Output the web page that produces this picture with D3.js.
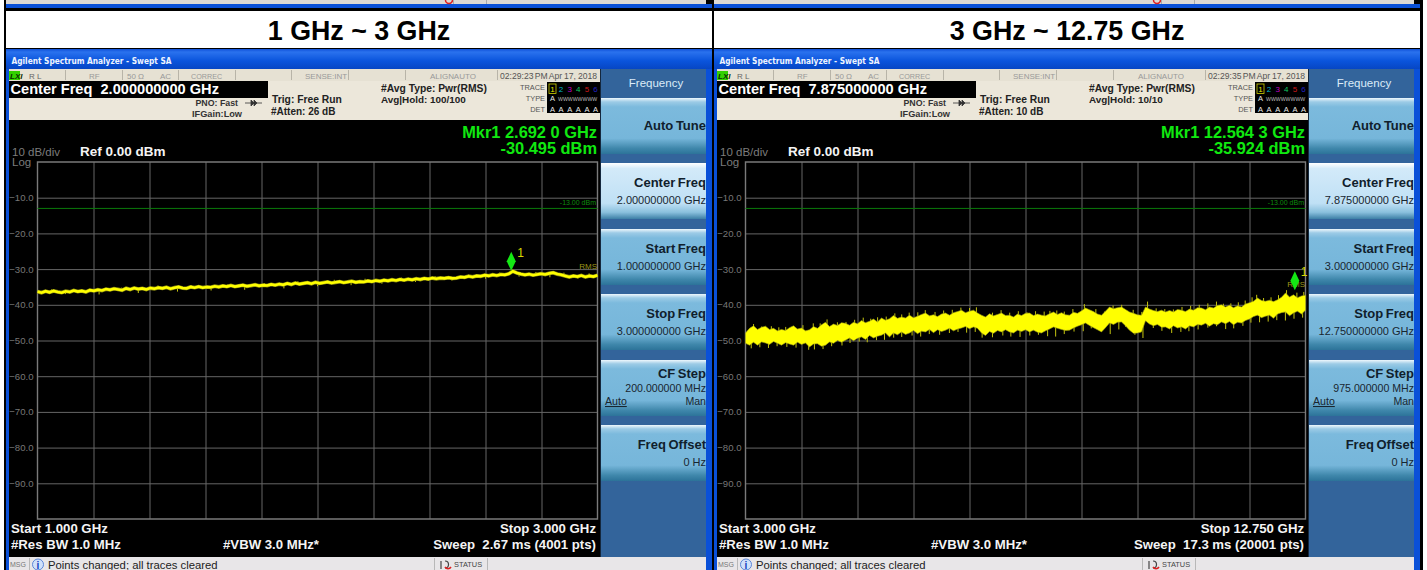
<!DOCTYPE html>
<html lang="en">
<head>
  <meta charset="UTF-8">
  <title>1 GHz ~ 12.75 GHz</title>
  <style>
    html, body { margin: 0; padding: 0; background: #fff; overflow: hidden; }
    svg { display: block; font-family: 'Liberation Sans', Arial, sans-serif; }
  </style>
</head>
<body>
  <svg width="1427" height="570"></svg>

  <script src="https://d3js.org/d3.v7.min.js"></script>
  <script>
    // panel values
    var titles = ['1 GHz ~ 3 GHz', '3 GHz ~ 12.75 GHz'];
    var startGHz = [1, 3];
    var stopGHz = [3, 12.75];
    var centerFreq = ['2.000000000 GHz', '7.875000000 GHz'];
    var startFreq = ['1.000000000 GHz', '3.000000000 GHz'];
    var stopFreq = ['3.000000000 GHz', '12.750000000 GHz'];
    var cfStep = ['200.000000 MHz', '975.000000 MHz'];
    var clock = ['02:29:23 PM', '02:29:35 PM'];
    var atten = ['#Atten: 26 dB', '#Atten: 10 dB'];
    var avgHold = ['Avg|Hold: 100/100', 'Avg|Hold: 10/10'];
    var mkrFreq = [2.6920, 12.5643];
    var mkrLabel = ['Mkr1 2.692 0 GHz', 'Mkr1 12.564 3 GHz'];
    var mkrValue = [-30.495, -35.924];
    var mkrText = ['-30.495 dBm', '-35.924 dBm'];
    var startLabel = ['Start 1.000 GHz', 'Start 3.000 GHz'];
    var stopLabel = ['Stop 3.000 GHz', 'Stop 12.750 GHz'];
    var sweepLabel = ['Sweep\u00a0\u00a02.67 ms (4001 pts)', 'Sweep\u00a0\u00a017.3 ms (20001 pts)'];
    var rmsValue = [-30, -35];
    var dbTicks = [-10, -20, -30, -40, -50, -60, -70, -80, -90];
    var limitDb = -13;
    var softkeys = ['Center Freq', 'Start Freq', 'Stop Freq'];

    // left trace, dBm across the 1 - 3 GHz sweep
    var traceA = [
      -36.3,-36.6,-36.2,-36.5,-36.1,-36.4,-36.6,-36.2,-36.4,-36.0,-36.3,-36.1,-36.4,-35.9,
      -36.1,-35.8,-36.0,-35.6,-35.8,-35.5,-35.7,-35.9,-35.4,-35.7,-35.3,-35.6,-35.4,-35.7,-35.3,
      -35.5,-35.2,-35.4,-35.1,-35.5,-35.2,-35.0,-35.3,-35.4,-35.0,-35.2,-34.9,-35.2,-35.0,
      -35.1,-34.8,-35.0,-34.7,-34.9,-34.6,-34.9,-34.7,-34.5,-34.8,-34.6,-34.4,-34.7,-34.5,
      -34.6,-34.3,-34.5,-34.2,-34.4,-34.0,-34.3,-33.9,-34.2,-34.0,-33.8,-34.1,-33.7,-34.0,
      -33.8,-33.6,-33.9,-33.7,-33.5,-33.8,-33.6,-33.4,-33.7,-33.5,
      -33.6,-33.3,-33.5,-33.2,-33.4,-33.1,-33.3,-33.0,-33.2,-32.9,-33.1,-32.8,-33.0,-32.7,-32.9,-32.6,-32.8,
      -32.5,-32.7,-32.5,-32.6,-32.4,-32.6,-32.5,-32.2,
      -32.3,-32.0,-32.2,-31.9,-32.0,-31.7,-31.9,-31.6,-31.8,-31.5,-31.6,-31.3,-30.6,
      -31.1,-31.4,-31.6,-31.4,-31.7,-31.5,-31.3,-31.5,-31.2,-31.0,-31.4,-31.6,-31.9,-32.2,
      -31.9,-32.1,-31.8,-32.2,-31.9,-32.1,-31.7
    ];
    // [GHz, tip dBm] of the noise spikes on the left trace
    var spikesA = [
      [1.05,-35.7],[1.1,-37.0],[1.16,-35.8],[1.22,-37.1],[1.3,-35.2],[1.36,-36.7],[1.43,-34.6],[1.5,-36.3],
      [1.55,-34.5],[1.62,-36.0],[1.68,-34.2],[1.74,-35.8],[1.81,-33.9],[1.88,-35.4],[1.93,-33.4],[2.0,-34.8],
      [2.06,-33.0],[2.12,-34.5],[2.17,-32.7],[2.23,-34.1],[2.3,-32.4],[2.35,-33.6],[2.42,-32.0],[2.48,-33.2],
      [2.54,-31.5],[2.6,-32.7],[2.65,-31.0],[2.72,-32.1],[2.78,-30.8],[2.83,-32.3],[2.88,-31.0],[2.93,-32.7],[2.97,-31.2]
    ];

    // right trace, upper and lower edge of the noise band in dBm, 3 - 12.75 GHz sweep
    var traceBTop = [
      -47.9,-46.6,-45.9,-46.9,-46.3,-46.0,-46.9,-46.6,-47.3,-46.9,
      -47.2,-46.4,-45.9,-46.8,-46.5,-47.3,-47.0,-46.1,-46.6,-45.6,
      -44.9,-46.1,-45.4,-45.8,-45.0,-45.2,-45.7,-44.9,-45.3,-44.4,
      -45.0,-44.6,-44.0,-44.8,-43.7,-44.3,-43.9,-43.0,-43.8,-43.4,
      -43.7,-42.9,-43.6,-43.2,-42.7,-42.3,-43.1,-42.8,-43.3,-42.6,
      -42.3,-42.9,-42.2,-41.9,-41.5,-42.2,-41.8,-41.5,-42.3,-42.9,
      -43.4,-42.5,-43.1,-42.7,-42.3,-43.0,-42.9,-43.4,-42.6,-43.0,
      -42.4,-42.3,-43.0,-42.6,-42.9,-43.1,-42.5,-42.0,-42.7,-42.2,
      -42.8,-42.9,-42.1,-42.4,-41.7,-40.9,-41.4,-41.9,-42.6,-42.9,
      -41.8,-40.6,-41.1,-40.8,-40.6,-41.3,-42.0,-42.4,-42.8,-42.9,
      -40.6,-41.2,-41.6,-41.9,-41.5,-42.0,-41.6,-42.0,-41.3,-41.5,
      -41.9,-41.2,-41.5,-40.8,-40.9,-41.4,-40.6,-40.9,-40.2,-40.0,
      -40.6,-40.1,-40.8,-40.3,-40.6,-39.8,-39.4,-39.0,-38.1,-38.8,
      -39.0,-38.7,-39.1,-38.6,-37.9,-36.7,-37.8,-37.2,-38.0,-37.5,
      -37.3
    ];
    var traceBBottom = [
      -50.8,-51.3,-50.5,-51.3,-50.4,-50.7,-51.1,-50.3,-50.8,-51.3,
      -50.6,-51.0,-51.3,-50.5,-51.1,-50.7,-51.8,-51.0,-50.9,-51.6,
      -51.3,-50.4,-50.8,-50.0,-50.5,-49.9,-49.3,-50.1,-49.4,-49.0,
      -49.7,-48.6,-49.3,-48.8,-48.5,-47.9,-49.0,-47.9,-48.4,-47.6,
      -48.3,-47.9,-47.2,-48.1,-47.4,-47.6,-46.9,-47.8,-47.0,-47.5,
      -47.1,-46.6,-47.3,-46.8,-46.5,-46.1,-46.7,-46.2,-46.6,-47.9,
      -48.6,-47.5,-48.0,-47.2,-47.6,-47.0,-47.6,-47.9,-47.1,-47.5,
      -47.0,-47.6,-47.1,-47.7,-47.9,-47.3,-46.8,-46.2,-46.6,-46.9,
      -47.2,-47.1,-46.5,-46.0,-45.6,-45.1,-45.8,-46.4,-47.0,-47.6,
      -46.4,-45.1,-45.5,-44.9,-44.8,-45.9,-47.1,-48.0,-47.9,-47.6,
      -44.5,-45.4,-45.9,-45.5,-46.3,-46.2,-46.8,-45.9,-46.5,-46.2,
      -46.8,-45.9,-46.2,-45.5,-45.7,-45.2,-46.0,-45.3,-45.6,-44.8,
      -45.3,-44.7,-45.6,-44.9,-45.1,-44.4,-44.0,-43.3,-42.9,-43.6,
      -43.2,-42.9,-43.8,-42.6,-42.2,-42.0,-43.1,-42.3,-41.8,-42.6,
      -41.5
    ];
    // [GHz, tip dBm] of the spikes sticking out of the right trace
    var spikesB = [
      [3.14,-45.4],[3.28,-46.1],[3.45,-46.0],[3.58,-46.3],[3.7,-46.2],[3.85,-46.2],[4.0,-45.7],[4.18,-45.2],
      [4.3,-45.2],[4.42,-44.1],[4.6,-44.9],[4.75,-44.8],[4.9,-44.2],[5.05,-43.6],[5.18,-43.9],[5.3,-43.5],
      [5.45,-43.3],[5.6,-42.4],[5.72,-42.7],[5.85,-42.2],[6.0,-42.1],[6.13,-41.5],[6.3,-42.0],[6.45,-41.6],
      [6.6,-41.4],[6.75,-40.8],[6.9,-40.9],[7.02,-40.7],[7.3,-42.2],[7.45,-41.5],[7.6,-42.2],[7.75,-41.8],
      [7.9,-42.1],[8.05,-41.8],[8.2,-41.9],[8.3,-41.7],[8.42,-41.6],[8.55,-41.9],[8.7,-41.2],[8.9,-39.8],
      [9.1,-41.2],[9.25,-41.9],[9.4,-40.2],[9.55,-40.0],[9.75,-41.4],[9.9,-42.0],[10.0,-39.1],[10.15,-41.0],
      [10.3,-41.2],[10.45,-41.3],[10.6,-40.6],[10.75,-40.3],[10.9,-40.0],[11.05,-39.6],[11.2,-39.1],[11.32,-39.7],
      [11.45,-39.6],[11.58,-39.3],[11.7,-38.8],[11.82,-37.9],[11.9,-37.2],[12.02,-38.1],[12.15,-37.9],[12.28,-37.3],
      [12.42,-35.9],[12.6,-36.6],[12.72,-36.4],
      [3.1,-52.2],[3.25,-51.9],[3.4,-52.1],[3.55,-51.6],[3.72,-51.8],[3.88,-52.0],[4.1,-52.6],[4.2,-52.5],
      [4.35,-52.4],[4.5,-51.6],[4.68,-51.4],[4.82,-50.7],[4.98,-50.3],[5.12,-50.5],[5.28,-49.9],[5.42,-49.8],
      [5.58,-49.2],[5.72,-49.0],[5.9,-48.6],[6.05,-48.9],[6.2,-48.2],[6.38,-48.4],[6.55,-47.9],[6.7,-47.6],
      [6.85,-47.8],[7.0,-47.6],[7.12,-49.2],[7.3,-49.1],[7.48,-48.6],[7.62,-48.9],[7.78,-49.0],[7.95,-48.6],
      [8.1,-48.4],[8.26,-48.8],[8.4,-48.9],[8.55,-48.2],[8.72,-47.5],[8.88,-47.4],[9.02,-46.6],[9.18,-47.2],
      [9.35,-48.2],[9.5,-46.9],[9.62,-46.2],[9.78,-48.4],[9.92,-49.3],[10.1,-46.5],[10.25,-47.3],[10.42,-47.9],
      [10.58,-47.6],[10.72,-47.4],[10.88,-46.9],[11.05,-46.4],[11.2,-46.0],[11.36,-46.8],[11.5,-46.6],[11.66,-45.9],
      [11.8,-45.0],[11.95,-44.9],[12.1,-44.7],[12.25,-44.3],[12.4,-44.4],[12.55,-43.9],[12.7,-43.6]
    ];

    var svg = d3.select('svg');
    var defs = svg.append('defs');

    function gradient(id, stops) {
      var g = defs.append('linearGradient').attr('id', id)
        .attr('x1', 0).attr('y1', 0).attr('x2', 0).attr('y2', 1);
      stops.forEach(function(s) {
        g.append('stop').attr('offset', s[0]).attr('stop-color', s[1]);
      });
    }
    gradient('bar', [[0, '#0f50d8'], [0.15, '#2a72ee'], [0.6, '#0a54dc'], [1, '#0646c4']]);
    gradient('key', [[0, '#eef7fc'], [0.07, '#9ccbe6'], [0.16, '#7cbadd'], [0.72, '#76b6da'], [0.9, '#3f87ab'], [1, '#2c7399']]);
    gradient('keyOn', [[0, '#ffffff'], [0.1, '#d3eaf9'], [0.72, '#bfe0f5'], [0.88, '#8ac0dd'], [1, '#3d7fa6']]);

    function rect(g, x, y, w, h, fill) {
      return g.append('rect').attr('x', x).attr('y', y).attr('width', w).attr('height', h).attr('fill', fill);
    }
    function text(g, x, y, s, size, fill, anchor, weight) {
      return g.append('text').attr('x', x).attr('y', y).text(s)
        .attr('font-size', size).attr('fill', fill)
        .attr('text-anchor', anchor || 'start')
        .attr('font-weight', weight || 'normal');
    }

    function softkey(g, y, label, labelY, value) {
      rect(g, 601, y, 105, 56, y === 163 ? 'url(#keyOn)' : 'url(#key)');
      text(g, 706, labelY, label, 13, '#10202c', 'end', 'bold').attr('word-spacing', -1);
      if (value) text(g, 706, y + 41, value, 11, '#182630', 'end');
    }

    function drawPanel(p, dx) {
      var g = svg.append('g').attr('transform', 'translate(' + dx + ',0)');

      // cut off strip of the screenshot above
      rect(g, 6, 0, 700, 4, '#dcd8d4');
      rect(g, 6, 4, 706, 4, '#0a50d8');
      g.append('path').attr('d', 'M445.5 0 a3.5 3.5 0 0 0 7 0').attr('fill', 'none').attr('stroke', '#e02020').attr('stroke-width', 1.5);
      rect(g, 453, 0, 1, 4, '#aaa');
      rect(g, 486, 0, 1, 4, '#aaa');

      // title strip
      rect(g, 6, 11, 706, 37, '#fff');
      text(g, 359, 40, titles[p], 26.8, '#000', 'middle', 'bold');

      // window frame
      rect(g, 6, 49, 706, 521, '#0a50d8');
      rect(g, 6, 49, 706, 20, 'url(#bar)');
      text(g, 11.5, 64, 'Agilent Spectrum Analyzer - Swept SA', 9.5, '#eef4ff', 'start', 'bold')
        .attr('font-family', "'DejaVu Sans Condensed', 'DejaVu Sans'")
        .attr('textLength', 160).attr('lengthAdjust', 'spacingAndGlyphs');
      rect(g, 9, 69, 591, 12, '#e6e1d3');
      rect(g, 9, 81, 591, 40, '#ece7da');
      rect(g, 9, 120, 591, 437, '#000');
      rect(g, 600, 69, 106, 488, '#33649b');
      rect(g, 600, 69, 1, 488, '#14273d');
      rect(g, 9, 557, 697, 13, '#e8e6e8');

      // status row
      rect(g, 9, 71, 11, 9, '#33d000');
      text(g, 10, 79, 'LXI', 8, '#0a2a00', 'start', 'bold').attr('font-style', 'italic');
      text(g, 29, 79, 'R L', 8, '#666');
      text(g, 89, 79, 'RF', 8, '#999');
      text(g, 127, 79, '50 Ω', 8, '#999');
      text(g, 160, 79, 'AC', 8, '#999');
      text(g, 191, 79, 'CORREC', 7.2, '#999');
      text(g, 305, 79, 'SENSE:INT', 8, '#999');
      text(g, 430, 79, 'ALIGN AUTO', 8, '#999').attr('word-spacing', -2);
      text(g, 500, 79, clock[p], 8.6, '#555').attr('word-spacing', -1);
      text(g, 597, 79, 'Apr 17, 2018', 8.6, '#555', 'end').attr('word-spacing', -0.5);
      [65, 122, 178, 235, 291, 348, 405, 497].forEach(function(x) {
        rect(g, x, 70, 1, 10, '#b8b4a8');
      });

      // settings block
      rect(g, 9, 81, 259, 17, '#000');
      text(g, 10.5, 94, 'Center Freq', 14.6, '#fff', 'start', 'bold');
      text(g, 100.5, 94, centerFreq[p], 14.6, '#fff', 'start', 'bold');
      text(g, 238, 106, 'PNO: Fast', 8.8, '#333', 'end', 'bold');
      g.append('path').attr('d', 'M245 103 h17 M251 100 l3 3 l-3 3 z M257 103 l-3 -3 v6 z').attr('stroke', '#333').attr('fill', '#333').attr('stroke-width', 0.8);
      text(g, 242, 117, 'IFGain:Low', 9.2, '#333', 'end', 'bold');
      text(g, 272, 103, 'Trig: Free Run', 10.3, '#222', 'start', 'bold');
      text(g, 271, 115, atten[p], 10, '#222', 'start', 'bold');
      text(g, 381, 92, '#Avg Type: Pwr(RMS)', 10.3, '#222', 'start', 'bold');
      text(g, 381, 103, avgHold[p], 9.9, '#222', 'start', 'bold');

      // trace table
      text(g, 545, 90, 'TRACE', 7.4, '#555', 'end');
      text(g, 545, 101, 'TYPE', 7.4, '#555', 'end');
      text(g, 545, 112, 'DET', 7.4, '#555', 'end');
      rect(g, 547, 82, 53, 31, '#000');
      rect(g, 549, 84, 7, 9.5, 'none').attr('stroke', '#d0d000').attr('stroke-width', 0.8);
      ['#e6e600', '#00b8c8', '#c000c0', '#10c860', '#d01818', '#2020c0'].forEach(function(c, i) {
        text(g, 552.5 + i * 8.6, 92, String(i + 1), 8, c, 'middle');
        text(g, 552.5 + i * 8.6, 112, 'A', 7.5, '#e8e8e8', 'middle');
      });
      text(g, 552.5, 101, 'A', 7.5, '#e8e8e8', 'middle');
      text(g, 558, 101, 'WWWWWWWW', 5.2, '#bbb');

      // marker readout
      text(g, 597, 138, mkrLabel[p], 16.4, '#10e810', 'end', 'bold');
      text(g, 597, 154, mkrText[p], 16.4, '#10e810', 'end', 'bold');
      text(g, 12, 156, '10 dB/div', 11.5, '#7c7c7c');
      text(g, 12, 166, 'Log', 11.5, '#7c7c7c');
      text(g, 80, 156, 'Ref 0.00 dBm', 13.5, '#f4f4f4', 'start', 'bold');

      // scales and graticule
      var x = d3.scaleLinear().domain([startGHz[p], stopGHz[p]]).range([37.5, 597.5]);
      var y = d3.scaleLinear().domain([0, -100]).range([162, 519]);
      var xStep = (stopGHz[p] - startGHz[p]) / 10;

      var yAxis = d3.axisLeft(y).tickValues(dbTicks).tickSize(-560).tickPadding(4).tickFormat(d3.format('.1f'));
      var gy = g.append('g').attr('transform', 'translate(37.5,0)').call(yAxis);
      gy.select('.domain').remove();
      gy.selectAll('line').attr('stroke', '#666');
      gy.selectAll('text').attr('fill', '#777').attr('font-size', 9.6).attr('font-family', "'Liberation Sans', Arial, sans-serif");

      var xAxis = d3.axisBottom(x).tickValues(d3.range(1, 10).map(function(i) { return startGHz[p] + i * xStep; })).tickSize(-357).tickFormat('');
      var gx = g.append('g').attr('transform', 'translate(0,519)').call(xAxis);
      gx.select('.domain').remove();
      gx.selectAll('line').attr('stroke', '#666');

      g.append('path')
        .attr('d', 'M' + x.range()[0] + ' ' + y(0) + 'H' + x.range()[1] + 'V' + y(-100) + 'H' + x.range()[0] + 'Z')
        .attr('fill', 'none').attr('stroke', '#7a7a7a').attr('stroke-width', 1.4);

      // limit line
      g.append('line').attr('x1', x.range()[0]).attr('x2', x.range()[1]).attr('y1', y(limitDb)).attr('y2', y(limitDb))
        .attr('stroke', '#0a7a0a');
      text(g, 596, y(limitDb) - 3, '-13.00 dBm', 7, '#0c8c0c', 'end');

      // trace
      var n = p === 0 ? traceA.length : traceBTop.length;
      var indexAt = d3.scaleLinear().domain([startGHz[p], stopGHz[p]]).range([0, n - 1]);
      var freqAt = indexAt.invert;
      var spikes = p === 0 ? spikesA : spikesB;
      var spikeBase = function(d) {
        var i = Math.round(indexAt(d[0]));
        return p === 0 ? traceA[i] : (traceBTop[i] + traceBBottom[i]) / 2;
      };
      g.selectAll('.spike').data(spikes).enter().append('line')
        .attr('class', 'spike')
        .attr('x1', function(d) { return x(d[0]); })
        .attr('x2', function(d) { return x(d[0]); })
        .attr('y1', function(d) { return y(spikeBase(d)); })
        .attr('y2', function(d) { return y(d[1]); })
        .attr('stroke', '#c4c410').attr('stroke-width', 1);

      if (p === 0) {
        var lineA = d3.line().x(function(d, i) { return x(freqAt(i)); }).y(function(d) { return y(d); });
        g.append('path').datum(traceA).attr('d', lineA)
          .attr('fill', 'none').attr('stroke', '#8a8a10').attr('stroke-width', 3.8);
        g.append('path').datum(traceA).attr('d', lineA)
          .attr('fill', 'none').attr('stroke', '#ffff00').attr('stroke-width', 2.6);
      } else {
        g.append('path').datum(traceBTop)
          .attr('d', d3.area()
            .x(function(d, i) { return x(freqAt(i)); })
            .y0(function(d, i) { return y(traceBBottom[i]); })
            .y1(function(d) { return y(d); }))
          .attr('fill', '#ffff00').attr('stroke', '#9c9c10').attr('stroke-width', 0.6);
      }

      text(g, 597, y(rmsValue[p]), 'RMS', 8, '#9c9618', 'end');

      // marker diamond, its lower tip sits on the marker value
      var mx = x(mkrFreq[p]), my = y(mkrValue[p]);
      g.append('path').attr('d', d3.line()([[mx, my], [mx - 4.5, my - 9.5], [mx, my - 19], [mx + 4.5, my - 9.5]]) + 'Z')
        .attr('fill', '#14e814');
      text(g, mx + 6, my - 14, '1', 12, '#d8d800');

      // softkeys
      text(g, 656, 87, 'Frequency', 11.5, '#dcecf8', 'middle');
      softkey(g, 98, 'Auto Tune', 130);
      softkey(g, 163, softkeys[0], 187, centerFreq[p]);
      softkey(g, 229, softkeys[1], 253, startFreq[p]);
      softkey(g, 294, softkeys[2], 318, stopFreq[p]);
      softkey(g, 360, 'CF Step', 378);
      text(g, 706, 392, cfStep[p], 10.6, '#182630', 'end');
      text(g, 605, 405, 'Auto', 10.6, '#182630').attr('text-decoration', 'underline');
      text(g, 706, 405, 'Man', 10.6, '#182630', 'end');
      softkey(g, 425, 'Freq Offset', 449, '0 Hz');

      // bottom annotations
      text(g, 11, 533, startLabel[p], 13.2, '#f4f4f4', 'start', 'bold');
      text(g, 11, 549, '#Res BW 1.0 MHz', 13.2, '#f4f4f4', 'start', 'bold');
      text(g, 223, 549, '#VBW 3.0 MHz*', 13.2, '#f4f4f4', 'start', 'bold');
      text(g, 596, 533, stopLabel[p], 13.2, '#f4f4f4', 'end', 'bold');
      text(g, 596, 549, sweepLabel[p], 13.2, '#f4f4f4', 'end', 'bold');

      // message bar
      text(g, 10, 567, 'MSG', 7, '#777');
      rect(g, 29, 558, 1, 12, '#b8b8b8');
      g.append('circle').attr('cx', 38).attr('cy', 564.5).attr('r', 5.5).attr('fill', '#cfe0fa').attr('stroke', '#5a86d8');
      text(g, 38, 568.5, 'i', 10, '#1040c0', 'middle', 'bold');
      text(g, 48, 569, 'Points changed; all traces cleared', 11.3, '#222');
      rect(g, 434, 558, 1, 12, '#b8b8b8');
      g.append('path').attr('d', 'M441 561 v8 M445 561 a3 3 0 0 1 0 7').attr('stroke', '#444').attr('fill', 'none').attr('stroke-width', 1.2);
      g.append('path').attr('d', 'M445 567 a3.5 3.5 0 0 0 6 0').attr('stroke', '#e02020').attr('fill', 'none').attr('stroke-width', 1.5);
      text(g, 454, 567, 'STATUS', 7.4, '#444');
      rect(g, 487, 558, 1, 12, '#b8b8b8');
    }

    // page is white, black lines between the shots
    rect(svg, 4, 0, 1419, 570, '#000');
    drawPanel(0, 0);
    drawPanel(1, 708);
    rect(svg, 1420, 0, 2.5, 570, '#000');
  </script>
</body>
</html>
